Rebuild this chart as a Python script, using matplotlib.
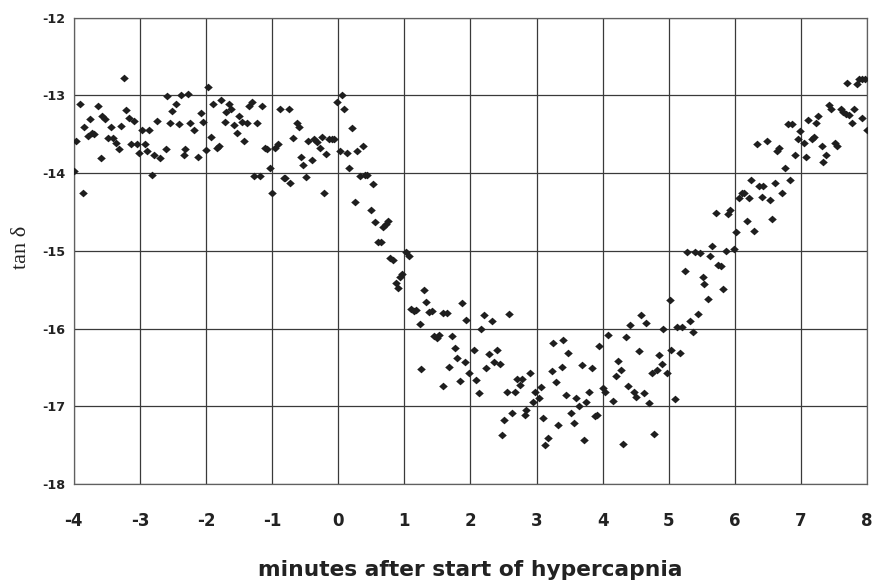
import numpy as np
import matplotlib
matplotlib.use("Agg")
import matplotlib.pyplot as plt

# ---- data (minutes, tan delta) ----
# baseline, before hypercapnia
base_x = [-3.24, -3.91, -3.64, -2.59, -2.38, -2.27, -2.46, -2.51, -3.21, -3.57,
          -3.53, -3.76, -3.17, -3.09, -2.74, -2.54, -2.41, -2.24, -2.18, -3.84,
          -3.43, -3.28, -2.97, -2.86, -3.72, -3.69, -3.79, -3.48, -3.41, -3.36,
          -3.96, -3.31, -3.13, -3.05, -2.93, -3.01, -2.89, -2.78, -2.69, -2.61,
          -2.33, -2.31, -3.59, -3.99, -2.81, -3.86,
          -1.97, -2.08, -2.05, -2.12, -2.00, -1.92, -1.89, -1.77, -1.65, -1.62,
          -1.70, -1.72, -1.57, -1.53, -1.50, -1.45, -1.38, -1.43, -1.84, -1.80,
          -1.35, -1.30, -1.15, -1.23, -1.10, -1.07, -0.95, -0.91, -1.03, -1.27,
          -1.18, -1.00, -0.88, -0.75, -0.63, -0.60, -0.68, -0.82, -0.80, -0.73,
          -0.56, -0.53, -0.48, -0.45, -0.40, -0.37, -0.32, -0.28, -0.25, -0.21]
base_y = [-12.77, -13.11, -13.13, -13.01, -13.00, -12.98, -13.11, -13.20, -13.19, -13.26,
          -13.30, -13.30, -13.29, -13.33, -13.33, -13.35, -13.37, -13.36, -13.45, -13.40,
          -13.40, -13.39, -13.44, -13.44, -13.48, -13.50, -13.52, -13.55, -13.55, -13.61,
          -13.59, -13.69, -13.63, -13.62, -13.62, -13.74, -13.71, -13.77, -13.80, -13.69,
          -13.76, -13.69, -13.80, -13.97, -14.03, -14.26,
          -12.89, -13.23, -13.34, -13.79, -13.70, -13.53, -13.11, -13.06, -13.11, -13.17,
          -13.21, -13.34, -13.38, -13.48, -13.26, -13.34, -13.35, -13.58, -13.68, -13.65,
          -13.13, -13.09, -13.14, -13.35, -13.67, -13.69, -13.67, -13.62, -13.94, -14.04,
          -14.04, -14.25, -13.18, -13.17, -13.35, -13.41, -13.55, -14.06, -14.06, -14.13,
          -13.79, -13.89, -14.05, -13.59, -13.83, -13.56, -13.60, -13.68, -13.53, -14.26]

# decline, 0 to 2 min
fall_x = [0.06, -0.02, 0.09, 0.21, -0.14, -0.10, -0.07, -0.18, 0.02, 0.14,
          0.29, 0.37, 0.17, 0.33, 0.41, 0.44, 0.53, 0.26, 0.49, 0.56,
          0.68, 0.72, 0.76, 0.60, 0.64, 0.78, 0.83, 1.03, 1.07, 0.97,
          0.94, 0.87, 0.91, 1.30, 1.33, 1.10, 1.14, 1.18, 1.23, 1.38,
          1.42, 1.59, 1.65, 1.87, 1.94, 1.45, 1.50, 1.53, 1.72, 1.77,
          1.80, 1.92, 1.68, 1.25, 1.84, 1.58, 1.98]
fall_y = [-12.99, -13.08, -13.18, -13.42, -13.56, -13.56, -13.56, -13.75, -13.71, -13.74,
          -13.71, -13.65, -13.94, -14.04, -14.02, -14.02, -14.14, -14.37, -14.47, -14.63,
          -14.69, -14.66, -14.62, -14.89, -14.88, -15.09, -15.12, -15.01, -15.06, -15.30,
          -15.33, -15.41, -15.48, -15.50, -15.66, -15.75, -15.78, -15.76, -15.94, -15.79,
          -15.78, -15.80, -15.80, -15.67, -15.89, -16.10, -16.12, -16.08, -16.10, -16.25,
          -16.38, -16.43, -16.49, -16.52, -16.68, -16.74, -16.57]

# trough, 2 to 4 min
low_x = [2.20, 2.33, 2.58, 2.16, 2.05, 2.08, 2.13, 2.23, 2.28, 2.36,
         2.40, 2.44, 2.55, 2.68, 2.70, 2.78, 2.75, 2.90, 3.06, 2.98,
         3.03, 2.95, 2.84, 2.82, 2.63, 2.51, 2.48, 3.10, 3.17, 3.13,
         3.33, 3.25, 3.40, 3.48, 3.23, 3.38, 3.30, 3.45, 3.57, 3.52,
         3.60, 3.64, 3.68, 3.75, 3.80, 3.84, 3.88, 3.92, 3.72, 3.95]
low_y = [-15.82, -15.90, -15.81, -16.01, -16.28, -16.66, -16.83, -16.51, -16.33, -16.43,
         -16.28, -16.45, -16.81, -16.81, -16.65, -16.65, -16.73, -16.57, -16.75, -16.82,
         -16.89, -16.94, -17.05, -17.11, -17.09, -17.18, -17.37, -17.15, -17.41, -17.50,
         -17.24, -16.18, -16.15, -16.32, -16.54, -16.49, -16.69, -16.85, -17.21, -17.08,
         -16.89, -17.00, -16.47, -16.95, -16.81, -16.51, -17.13, -17.11, -17.43, -16.22]

# recovery, 4 to 6 min
rise_x = [5.71, 5.90, 5.93, 6.01, 5.66, 5.28, 5.39, 5.47, 5.63, 5.74,
          5.79, 5.86, 5.98, 5.24, 5.51, 5.54, 5.82, 5.59, 5.02, 5.44,
          5.32, 5.36, 5.12, 5.20, 4.92, 4.58, 4.65, 4.42, 4.08, 4.35,
          4.55, 5.04, 5.17, 4.85, 4.23, 4.27, 4.20, 4.90, 4.82, 4.74,
          4.97, 4.00, 4.04, 4.38, 4.47, 4.50, 4.62, 4.70, 4.16, 5.09,
          4.77, 4.31]
rise_y = [-14.51, -14.52, -14.48, -14.76, -14.94, -15.01, -15.01, -15.03, -15.06, -15.18,
          -15.19, -15.00, -14.97, -15.26, -15.34, -15.42, -15.49, -15.62, -15.63, -15.81,
          -15.90, -16.04, -15.98, -15.98, -16.01, -15.82, -15.93, -15.96, -16.08, -16.11,
          -16.29, -16.28, -16.31, -16.34, -16.42, -16.53, -16.61, -16.46, -16.53, -16.57,
          -16.57, -16.76, -16.82, -16.74, -16.81, -16.88, -16.83, -16.96, -16.93, -16.91,
          -17.35, -17.48]

# late, 6 to 8 min
late_x = [7.69, 7.85, 7.88, 7.93, 7.97, 7.42, 7.46, 7.61, 7.64, 7.68,
          7.73, 7.80, 7.77, 7.92, 8.00, 7.26, 7.23, 7.11, 7.17, 7.19,
          6.98, 6.95, 7.04, 7.31, 7.52, 7.55, 7.38, 7.34, 7.08, 6.91,
          6.80, 6.87, 6.48, 6.34, 6.64, 6.67, 6.76, 6.83, 6.25, 6.36,
          6.43, 6.10, 6.14, 6.06, 6.21, 6.41, 6.53, 6.61, 6.71, 6.19,
          6.56, 6.29]
late_y = [-12.84, -12.85, -12.79, -12.79, -12.79, -13.12, -13.17, -13.18, -13.21, -13.24,
          -13.25, -13.17, -13.36, -13.29, -13.44, -13.26, -13.36, -13.32, -13.56, -13.53,
          -13.46, -13.56, -13.61, -13.65, -13.61, -13.65, -13.76, -13.86, -13.79, -13.76,
          -13.37, -13.37, -13.58, -13.63, -13.71, -13.68, -13.94, -14.09, -14.09, -14.16,
          -14.17, -14.25, -14.26, -14.32, -14.32, -14.31, -14.34, -14.13, -14.26, -14.62,
          -14.59, -14.75]

x_ticks = [-4, -3, -2, -1, 0, 1, 2, 3, 4, 5, 6, 7, 8]
y_ticks = [-18, -17, -16, -15, -14, -13, -12]

x = np.array(base_x + fall_x + low_x + rise_x + late_x)
y = np.array(base_y + fall_y + low_y + rise_y + late_y)

fig = plt.figure(figsize=(8.75, 5.85), dpi=100)
ax = fig.add_axes([0.0843, 0.1726, 0.9067, 0.7971])

# slightly wide diamond, as in the reference
diamond = [(-1.12, 0), (0, 1), (1.12, 0), (0, -1), (-1.12, 0)]
ax.plot(x, y, linestyle='none', marker=diamond, color='#1e1e1e',
        markersize=6.2, markeredgewidth=0, zorder=3)

ax.set_xlim(-4, 8)
ax.set_ylim(-18, -12)
ax.set_xticks(x_ticks)
ax.set_yticks(y_ticks)
ax.set_xticklabels([str(t) for t in x_ticks])
ax.set_yticklabels([str(t) for t in y_ticks])
ax.grid(True, color='#3a3a3a', linewidth=0.9)
ax.set_axisbelow(True)
for s in ax.spines.values():
    s.set_color('#606060')
    s.set_linewidth(0.9)

ax.tick_params(axis='both', length=0)
ax.tick_params(axis='x', pad=20, labelsize=12)
ax.tick_params(axis='y', pad=5.8, labelsize=9.2)
for lab in ax.get_xticklabels() + ax.get_yticklabels():
    lab.set_fontfamily('DejaVu Sans')
    lab.set_fontweight('bold')
    lab.set_color('#222222')

ax.set_xlabel('minutes after start of hypercapnia', fontfamily='DejaVu Sans',
              fontweight='bold', fontsize=15.7, color='#222222')
ax.xaxis.set_label_coords(0.5, -0.163)
ax.set_ylabel('tan δ', fontfamily='Liberation Serif', fontsize=16,
              color='#222222')
ax.yaxis.set_label_coords(-0.0545, 0.5075)

fig.savefig('out.png', dpi=100)
